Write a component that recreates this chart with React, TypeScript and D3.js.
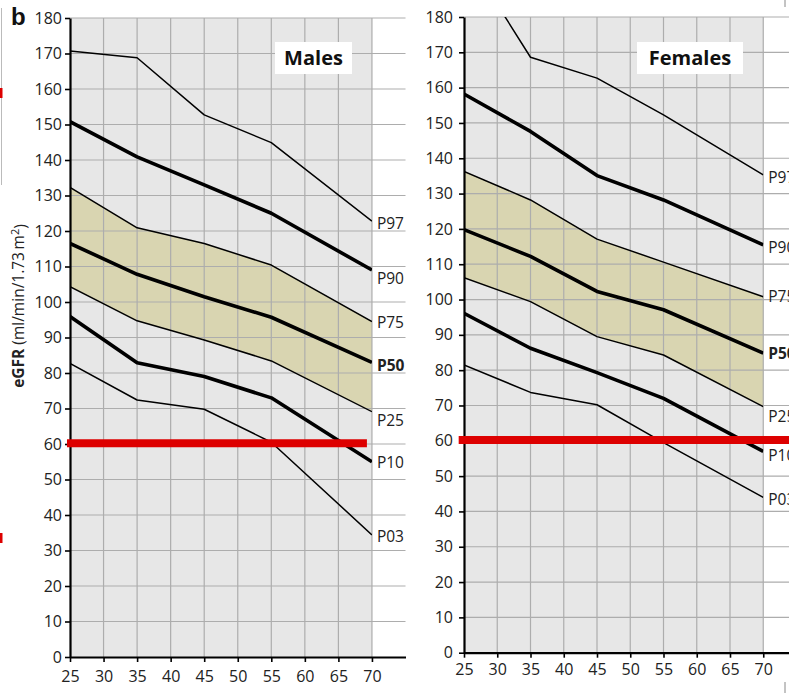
import * as d3 from "d3";
import React, { useEffect, useRef } from "react";

// ages where the percentile curves have a break point
const ages = [25, 35, 45, 55, 70];
const percentileKeys = ["P97", "P90", "P75", "P50", "P25", "P10", "P03"];
const thickKeys = ["P90", "P50", "P10"];

const xTicks = [25, 30, 35, 40, 45, 50, 55, 60, 65, 70];
const yTicks = [0, 10, 20, 30, 40, 50, 60, 70, 80, 90, 100, 110, 120, 130, 140, 150, 160, 170, 180];

// males, eGFR (ml/min/1.73 m2)
const malesP97 = [170.7, 168.8, 152.7, 144.9, 122.8];
const malesP90 = [150.8, 140.9, 133.0, 125.0, 109.0];
const malesP75 = [132.3, 120.9, 116.5, 110.4, 94.5];
const malesP50 = [116.5, 107.8, 101.5, 95.7, 83.0];
const malesP25 = [104.3, 94.7, 89.3, 83.4, 69.1];
const malesP10 = [95.9, 82.9, 79.0, 73.0, 55.0];
const malesP03 = [82.7, 72.4, 69.8, 60.5, 34.4];

// females
const femalesP97 = [198.5, 168.6, 162.7, 152.3, 135.3];
const femalesP90 = [158.2, 147.6, 135.1, 128.2, 115.5];
const femalesP75 = [136.3, 128.2, 117.1, 110.6, 100.8];
const femalesP50 = [119.8, 112.2, 102.3, 97.1, 84.8];
const femalesP25 = [106.2, 99.4, 89.5, 84.3, 69.7];
const femalesP10 = [96.1, 86.2, 79.3, 72.0, 57.0];
const femalesP03 = [81.5, 73.7, 70.2, 59.5, 44.0];

const ckdThreshold = 60.2;

const panels = [
  {
    id: "m",
    title: "Males",
    series: {
      P97: malesP97, P90: malesP90, P75: malesP75, P50: malesP50,
      P25: malesP25, P10: malesP10, P03: malesP03,
    },
    xRange: [70, 405.5],
    yRange: [657, 18],
    xPad: 9,
    yPad: 3,
    redFrom: 24.55,
    redTo: 69.25,
    titleBox: { x: 275, y: 42, w: 77, h: 32 },
    nudge: { P97: 2, P90: 8, P75: 1, P50: 3, P25: 9, P10: 1, P03: 2 },
  },
  {
    id: "f",
    title: "Females",
    series: {
      P97: femalesP97, P90: femalesP90, P75: femalesP75, P50: femalesP50,
      P25: femalesP25, P10: femalesP10, P03: femalesP03,
    },
    xRange: [464, 796.5],
    yRange: [652.7, 17],
    xPad: 6,
    yPad: 6,
    redFrom: 24.2,
    redTo: 80,
    titleBox: { x: 637, y: 42, w: 106, h: 32 },
    nudge: { P97: 3, P90: 3, P75: 0, P50: 0, P25: 10, P10: 4, P03: 2 },
  },
];

const FONT = "'Open Sans', 'Liberation Sans', sans-serif";

function App() {
  const svgRef = useRef<SVGSVGElement>(null);

  useEffect(() => {
    const svg = d3.select(svgRef.current);
    svg.selectAll("*").remove();

    panels.forEach((p) => {
      const x = d3.scaleLinear().domain([25, 75]).range(p.xRange);
      const y = d3.scaleLinear().domain([0, 180]).range(p.yRange);
      const g = svg.append("g").attr("class", "panel-" + p.id);

      // clip for curves that leave the plot (female P97)
      g.append("clipPath")
        .attr("id", "clip-" + p.id)
        .append("rect")
        .attr("x", x(25))
        .attr("y", y(180))
        .attr("width", x(70) - x(25))
        .attr("height", y(0) - y(180));

      // plot background
      g.append("rect")
        .attr("x", x(25))
        .attr("y", y(180))
        .attr("width", x(70) - x(25))
        .attr("height", y(0) - y(180))
        .attr("fill", "#e7e7e7");

      // P25-P75 band
      const band = ages.map((a, i) => ({ a, lo: p.series.P25[i], hi: p.series.P75[i] }));
      g.append("path")
        .datum(band)
        .attr("fill", "#d9d5b1")
        .attr(
          "d",
          d3.area<any>()
            .x((d) => x(d.a))
            .y0((d) => y(d.lo))
            .y1((d) => y(d.hi))
        );

      // gridlines
      g.selectAll(".hgrid")
        .data(yTicks.filter((t) => t > 0))
        .join("line")
        .attr("class", "hgrid")
        .attr("x1", x(25))
        .attr("x2", x(75))
        .attr("y1", (d) => y(d))
        .attr("y2", (d) => y(d))
        .attr("stroke", "#adadad")
        .attr("stroke-width", 1.2);

      g.selectAll(".vgrid")
        .data(xTicks.filter((t) => t > 25))
        .join("line")
        .attr("class", "vgrid")
        .attr("x1", (d) => x(d))
        .attr("x2", (d) => x(d))
        .attr("y1", y(0))
        .attr("y2", y(180))
        .attr("stroke", "#adadad")
        .attr("stroke-width", 1.2);

      // percentile curves
      const line = d3.line<number>()
        .x((d, i) => x(ages[i]))
        .y((d) => y(d));

      g.append("g")
        .attr("clip-path", `url(#clip-${p.id})`)
        .selectAll("path")
        .data(percentileKeys)
        .join("path")
        .attr("fill", "none")
        .attr("stroke", "#000")
        .attr("stroke-linejoin", "round")
        .attr("stroke-width", (k) => (thickKeys.includes(k) ? 3.6 : 1.5))
        .attr("d", (k) => line(p.series[k]));

      // axes
      const yAxis = d3.axisLeft(y).tickValues(yTicks).tickSize(5).tickSizeOuter(0).tickPadding(p.yPad);
      const yG = g.append("g").attr("transform", `translate(${x(25)},0)`).call(yAxis);

      const xAxis = d3.axisBottom(x).tickValues(xTicks).tickSize(5).tickSizeOuter(0).tickPadding(p.xPad);
      const xG = g.append("g").attr("transform", `translate(0,${y(0)})`).call(xAxis);

      [yG, xG].forEach((ax) => {
        ax.attr("font-family", FONT).attr("font-size", 16);
        ax.select(".domain").attr("stroke", "#000").attr("stroke-width", 2.2);
        ax.selectAll(".tick line").attr("stroke", "#000").attr("stroke-width", 1.6);
        ax.selectAll(".tick text").attr("fill", "#222");
      });

      // eGFR 60 threshold
      g.append("line")
        .attr("x1", x(p.redFrom))
        .attr("x2", x(p.redTo))
        .attr("y1", y(ckdThreshold))
        .attr("y2", y(ckdThreshold))
        .attr("stroke", "#dd0000")
        .attr("stroke-width", 8);

      // end labels
      g.selectAll(".plabel")
        .data(percentileKeys)
        .join("text")
        .attr("class", "plabel")
        .attr("x", x(70) + 5)
        .attr("y", (k) => y(p.series[k][ages.length - 1]) + p.nudge[k])
        .attr("dy", "0.36em")
        .attr("font-family", FONT)
        .attr("font-size", 15.5)
        .attr("font-weight", (k) => (k === "P50" ? 700 : 400))
        .attr("fill", "#222")
        .text((k) => k);

      // title box
      g.append("rect")
        .attr("x", p.titleBox.x)
        .attr("y", p.titleBox.y)
        .attr("width", p.titleBox.w)
        .attr("height", p.titleBox.h)
        .attr("fill", "#fff");
      g.append("text")
        .attr("x", p.titleBox.x + p.titleBox.w / 2)
        .attr("y", p.titleBox.y + p.titleBox.h / 2)
        .attr("dy", "0.36em")
        .attr("text-anchor", "middle")
        .attr("font-family", FONT)
        .attr("font-size", 20)
        .attr("font-weight", 700)
        .attr("fill", "#111")
        .text(p.title);
    });

    // y axis title, centred by measuring its length
    const yt = svg.append("text")
      .attr("font-family", FONT)
      .attr("font-size", 15.5)
      .attr("fill", "#222");
    yt.append("tspan").attr("font-weight", 700).text("eGFR");
    yt.append("tspan").text(" (ml/min/1.73\u2009m");
    yt.append("tspan").attr("dy", "-0.45em").attr("font-size", 11).text("2");
    yt.append("tspan").attr("dy", "0.45em").text(")");
    const len = (yt.node() as SVGTextElement).getComputedTextLength();
    yt.attr("transform", `translate(24,${306 + len / 2}) rotate(-90)`);

    // panel letter
    svg.append("text")
      .attr("x", 11)
      .attr("y", 25)
      .attr("font-family", "'Liberation Sans', Arial, sans-serif")
      .attr("font-size", 24)
      .attr("font-weight", 700)
      .attr("fill", "#111")
      .text("b");

    // crop leftovers from the neighbouring figure
    svg.append("line").attr("x1", 1.5).attr("x2", 1.5).attr("y1", 8).attr("y2", 185)
      .attr("stroke", "#bbb").attr("stroke-width", 1);
    svg.append("rect").attr("x", 0).attr("y", 88).attr("width", 2.5).attr("height", 10).attr("fill", "#dd0000");
    svg.append("rect").attr("x", 0).attr("y", 533).attr("width", 2.5).attr("height", 10).attr("fill", "#dd0000");
    svg.append("line").attr("x1", 785).attr("x2", 785).attr("y1", 0).attr("y2", 7)
      .attr("stroke", "#888").attr("stroke-width", 1);
    svg.append("line").attr("x1", 785).attr("x2", 785).attr("y1", 682).attr("y2", 693)
      .attr("stroke", "#888").attr("stroke-width", 1);
  }, []);

  return (
    <svg
      ref={svgRef}
      width={789}
      height={693}
      style={{ position: "absolute", left: 0, top: 0, background: "#fff" }}
    />
  );
}

export default App;
